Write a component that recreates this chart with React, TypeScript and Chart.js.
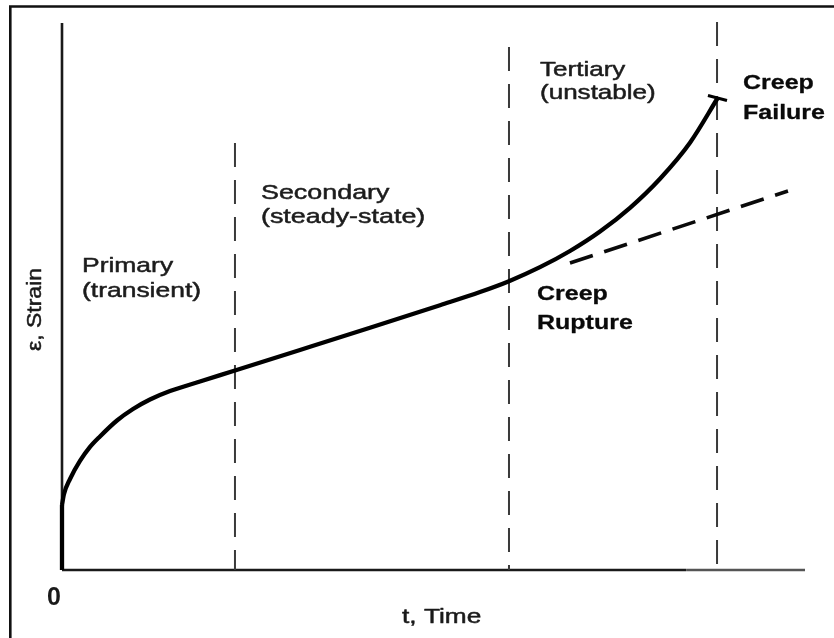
import React, { useEffect, useRef } from "react";
import { Chart, registerables } from "chart.js";

Chart.register(...registerables);

// ---- Data (time and strain in arbitrary units 0..100) ----
const startTime = [0, 0];
const startStrain = [0, 11.88];

const curveTime = [0, 0.27, 1.08, 2.42, 3.77, 5.11, 7.4, 9.56, 11.84, 14.54, 18.57, 23.28, 32.03, 41.45, 50.88, 56.26, 60.16, 64.33, 68.37, 72.41, 76.45, 80.49, 84.52, 88.29];
const curveStrain = [11.88, 13.89, 16.64, 19.93, 22.49, 24.41, 27.33, 29.43, 31.17, 32.72, 34.46, 36.47, 40.22, 44.28, 48.41, 50.82, 52.8, 55.36, 58.32, 61.88, 66.22, 71.54, 78.12, 86.38];

const failureCapTime = [86.94, 89.5];
const failureCapStrain = [86.75, 85.83];

const tangentTime = [68.37, 97.71];
const tangentStrain = [56.12, 69.29];

const boundaryTime = [23.28, 60.16, 88.16];
const boundaryTop = [78.06, 95.61, 100.2];

const axisXTime = [0, 84, 100];
const axisYStrain = [0, 100];

const phaseTitles = ["Primary", "Secondary", "Tertiary"];
const phaseSubtitles = ["(transient)", "(steady-state)", "(unstable)"];
const eventTitles = ["Creep", "Creep"];
const eventSubtitles = ["Failure", "Rupture"];
const xAxisTitle = "t, Time";
const yAxisTitle = "\u03b5, Strain";
const originLabel = "0";

const pts = (xs: number[], ys: number[]) => xs.map((x, i) => ({ x, y: ys[i] }));

const FONT = '"Liberation Sans", Arial, Helvetica, sans-serif';

// annotation placement (data units for anchor, px for line spacing)
const annotations = [
  { lines: [phaseTitles[0], phaseSubtitles[0]], x: 2.69, y: 54.48, gap: 25, bold: false, sx: 1.26 },
  { lines: [phaseTitles[1], phaseSubtitles[1]], x: 26.78, y: 67.82, gap: 24, bold: false, sx: 1.28 },
  { lines: [phaseTitles[2], phaseSubtitles[2]], x: 64.33, y: 90.31, gap: 23, bold: false, sx: 1.24 },
  { lines: [eventTitles[0], eventSubtitles[0]], x: 91.66, y: 87.93, gap: 30, bold: true, sx: 1.19 },
  { lines: [eventTitles[1], eventSubtitles[1]], x: 63.93, y: 49.36, gap: 29, bold: true, sx: 1.19 },
];

function drawText(ctx: any, text: string, stroke: number) {
  ctx.fillText(text, 0, 0);
  if (stroke > 0) {
    ctx.lineWidth = stroke;
    ctx.strokeStyle = ctx.fillStyle;
    ctx.strokeText(text, 0, 0);
  }
}

const textPlugin = {
  id: "creepText",
  beforeDraw(chart: any) {
    const ctx = chart.ctx;
    ctx.save();
    ctx.fillStyle = "#ffffff";
    ctx.fillRect(0, 0, chart.width, chart.height);
    // outer frame (left and top edges)
    ctx.strokeStyle = "#111";
    ctx.lineWidth = 2.6;
    ctx.beginPath();
    ctx.moveTo(10.3, chart.height);
    ctx.lineTo(10.3, 6.5);
    ctx.lineTo(chart.width, 6.5);
    ctx.stroke();
    ctx.restore();
  },
  afterDraw(chart: any) {
    const ctx = chart.ctx;
    const xs = chart.scales.x;
    const ys = chart.scales.y;
    ctx.save();
    ctx.textBaseline = "alphabetic";
    ctx.lineJoin = "round";
    for (const a of annotations) {
      const px = xs.getPixelForValue(a.x);
      const py = ys.getPixelForValue(a.y);
      ctx.font = `${a.bold ? "bold " : ""}21px ${FONT}`;
      ctx.fillStyle = a.bold ? "#0a0a0a" : "#1c1c1c";
      ctx.textAlign = "left";
      a.lines.forEach((ln, i) => {
        ctx.save();
        ctx.translate(px, py + i * a.gap);
        ctx.scale(a.sx, 1);
        drawText(ctx, ln, a.bold ? 0.3 : 0.5);
        ctx.restore();
      });
    }
    // origin label
    ctx.save();
    ctx.font = `bold 25px ${FONT}`;
    ctx.fillStyle = "#1a1a1a";
    ctx.textAlign = "center";
    ctx.translate(xs.getPixelForValue(-1.08), ys.getPixelForValue(-6.4));
    ctx.fillText(originLabel, 0, 0);
    ctx.restore();
    // x axis title
    ctx.save();
    ctx.font = `21px ${FONT}`;
    ctx.fillStyle = "#1a1a1a";
    ctx.textAlign = "left";
    ctx.translate(xs.getPixelForValue(45.76), ys.getPixelForValue(-9.69));
    ctx.scale(1.25, 1);
    drawText(ctx, xAxisTitle, 0.5);
    ctx.restore();
    // y axis title
    ctx.save();
    ctx.font = `20px ${FONT}`;
    ctx.fillStyle = "#1a1a1a";
    ctx.textAlign = "center";
    ctx.translate(xs.getPixelForValue(-2.83), ys.getPixelForValue(47.62));
    ctx.rotate(-Math.PI / 2);
    ctx.scale(1.15, 1);
    drawText(ctx, yAxisTitle, 0.5);
    ctx.restore();
    ctx.restore();
  },
};

const base = { showLine: true, pointRadius: 0, pointHoverRadius: 0, clip: false as any, fill: false };

export default function App() {
  const ref = useRef<HTMLCanvasElement | null>(null);
  useEffect(() => {
    if (!ref.current) return;
    const boundaries = boundaryTime.map((t, i) => ({
      ...base,
      label: `boundary${i}`,
      data: [{ x: t, y: boundaryTop[i] }, { x: t, y: 0 }],
      borderColor: "#3a3a3a",
      borderWidth: 2,
      borderDash: [24, 13],
      order: 5,
    }));
    const chart = new Chart(ref.current, {
      type: "scatter",
      data: {
        datasets: [
          {
            ...base,
            label: "yAxis",
            data: axisYStrain.map((s) => ({ x: 0, y: s })),
            borderColor: "#1a1a1a",
            borderWidth: 2.6,
            order: 6,
          },
          {
            ...base,
            label: "xAxis",
            data: axisXTime.map((t) => ({ x: t, y: 0 })),
            borderColor: "#1a1a1a",
            borderWidth: 2.6,
            segment: { borderColor: (c: any) => (c.p0DataIndex === 1 ? "#555555" : "#1a1a1a") },
            order: 6,
          },
          ...boundaries,
          {
            ...base,
            label: "tangent",
            data: pts(tangentTime, tangentStrain),
            borderColor: "#0a0a0a",
            borderWidth: 3.6,
            borderDash: [24, 12],
            order: 3,
          },
          {
            ...base,
            label: "start",
            data: pts(startTime, startStrain),
            borderColor: "#000",
            borderWidth: 4.3,
            order: 1,
          },
          {
            ...base,
            label: "strain",
            data: pts(curveTime, curveStrain),
            borderColor: "#000",
            borderWidth: 4.3,
            cubicInterpolationMode: "monotone",
            borderJoinStyle: "round",
            order: 1,
          },
          {
            ...base,
            label: "cap",
            data: pts(failureCapTime, failureCapStrain),
            borderColor: "#000",
            borderWidth: 3,
            order: 1,
          },
        ] as any,
      },
      options: {
        animation: false,
        responsive: false,
        maintainAspectRatio: false,
        devicePixelRatio: 1,
        events: [],
        layout: { padding: { left: 62, right: 29, top: 23, bottom: 68 } },
        plugins: { legend: { display: false }, tooltip: { enabled: false }, title: { display: false } },
        scales: {
          x: { type: "linear", min: 0, max: 100, display: false },
          y: { type: "linear", min: 0, max: 100, display: false },
        },
      },
      plugins: [textPlugin],
    });
    return () => chart.destroy();
  }, []);
  return (
    <div style={{ position: "fixed", left: 0, top: 0, width: 834, height: 638, background: "#fff" }}>
      <canvas ref={ref} width={834} height={638} style={{ display: "block", width: 834, height: 638 }} />
    </div>
  );
}
